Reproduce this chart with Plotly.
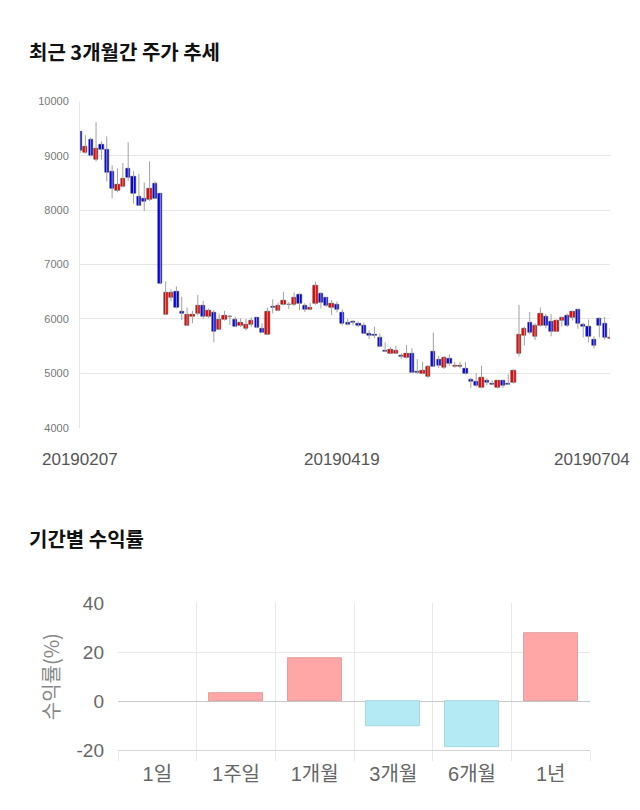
import plotly.graph_objects as go

# ---- candlestick data (100 trading days) ----
opens = [9440,9060,9300,8930,9210,9120,8720,8360,8440,8770,8620,8260,8210,8190,8500,8300,
         6080,6390,6500,6130,5880,6050,6100,6240,6040,6120,5810,5990,6050,5990,5880,5820,5900,6020,5830,5720,
         6230,6160,6270,6270,6260,6440,6250,6180,6280,6460,6390,6210,6270,6120,5930,5960,5910,5870,5730,5710,
         5650,5420,5370,5370,5320,5290,5360,5040,5000,4945,5400,5250,5100,5270,5120,5120,5090,4885,4850,4740,
         4865,4810,4730,4860,4810,4835,5360,5700,5940,5680,5880,6040,5960,5770,5970,6070,6030,6180,5900,5860,
         5630,6010,5920,5640]
highs = [9450,9380,9340,9620,9270,9360,8830,8770,8870,9250,8720,8670,8510,8900,8530,8310,
         6690,6540,6600,6410,6210,6150,6440,6330,6190,6160,6100,6150,6070,6040,6010,6000,6030,6030,5920,6210,
         6360,6300,6500,6310,6490,6470,6290,6300,6690,6490,6400,6350,6320,6180,6000,5980,5950,5930,5790,5860,
         5730,5570,5490,5510,5370,5520,5460,5260,5210,5150,5750,5320,5320,5350,5210,5210,5210,4915,5005,5140,
         4910,4870,4870,4870,4980,5070,6260,5860,6130,5920,6210,6090,6090,5990,6040,6100,6150,6190,5930,5990,
         5680,6030,6040,5830]
lows = [9050,9040,8990,8900,8930,8530,8220,8330,8420,8540,8120,8080,7990,8170,8210,6640,
        6070,6320,6190,5980,5870,5920,6070,6000,6020,5570,5800,5970,5890,5850,5850,5790,5860,5830,5740,5710,
        6100,6150,6250,6180,6240,6160,6130,6160,6260,6190,6220,6070,6120,5880,5880,5880,5850,5730,5630,5650,
        5480,5390,5360,5360,5260,5270,5010,4990,4980,4915,5120,5100,5080,5140,5100,5090,4975,4725,4750,4725,
        4780,4780,4720,4730,4785,4810,5310,5510,5720,5610,5860,5830,5680,5760,5860,5850,5970,5820,5660,5570,
        5460,5660,5620,5620]
closes = [9100,9170,9000,9140,9120,8690,8400,8480,8590,8600,8310,8090,8160,8400,8220,6650,
          6490,6480,6210,6100,6080,6080,6250,6050,6150,5760,5990,6070,6040,5860,5940,5900,5970,5840,5750,6130,
          6210,6250,6330,6260,6390,6280,6180,6210,6620,6300,6240,6290,6180,5910,5900,5940,5870,5740,5690,5690,
          5490,5400,5430,5420,5300,5360,5020,5020,5050,5130,5130,5140,5290,5180,5140,5150,4990,4840,4780,4925,
          4825,4800,4860,4780,4800,5050,5710,5820,5750,5880,6100,5880,5760,5970,6030,5880,6130,5920,5860,5680,
          5520,5880,5660,5660]

date_labels = ["20190207", "20190419", "20190704"]
date_index = [0, 49, 99]

# ---- period returns ----
periods = ["1일", "1주일", "1개월", "3개월", "6개월", "1년"]
returns = [0, 3.2, 17.5, -10.3, -18.9, 27.8]
ret_ticks = [-20, 0, 20, 40]
ret_tick_text = ["-20", "0", "20", "40"]

idx = list(range(len(opens)))
body_base = [min(o, c) for o, c in zip(opens, closes)]
body_h = [max(abs(c - o), 8) for o, c in zip(opens, closes)]
body_col = ["#ff0000" if c > o else "#0000ff" for o, c in zip(opens, closes)]

wx, wy = [], []
for i, h, l in zip(idx, highs, lows):
    wx += [i, i, None]
    wy += [l, h, None]

LAT = "Liberation Sans, Noto Sans CJK KR, sans-serif"
KR = "Noto Sans CJK KR, Liberation Sans, sans-serif"


def py(r):
    # target pixel row (from top) -> paper fraction
    return 1 - (r / 0.9806 - 8) / 810


fig = go.Figure()
fig.add_trace(go.Scatter(x=wx, y=wy, mode="lines", line=dict(color="#a0a0a0", width=1),
                         xaxis="x", yaxis="y", hoverinfo="skip", showlegend=False))
fig.add_trace(go.Bar(x=idx, y=body_h, base=body_base, width=0.8,
                     marker=dict(color=body_col, line=dict(color="#333333", width=0.5)),
                     xaxis="x", yaxis="y", showlegend=False))

ret_col = ["#ffa6a6" if v >= 0 else "#b3eaf3" for v in returns]
ret_line = ["#e3a0a0" if v >= 0 else "#a5d8e0" for v in returns]
ret_lw = [1 if v != 0 else 0 for v in returns]
fig.add_trace(go.Bar(x=periods, y=returns, width=0.69,
                     marker=dict(color=ret_col, line=dict(color=ret_line, width=ret_lw)),
                     xaxis="x2", yaxis="y2", showlegend=False))

annotations = [
    dict(text="<b>최근 3개월간 주가 추세</b>", x=27/640, y=py(50), xref="paper", yref="paper",
         xanchor="left", yanchor="middle", showarrow=False, font=dict(family=KR, size=20, color="#111")),
    dict(text="<b>기간별 수익률</b>", x=27/640, y=py(540), xref="paper", yref="paper",
         xanchor="left", yanchor="middle", showarrow=False, font=dict(family=KR, size=20, color="#111")),
]
shifts = [0, 0, -18]
for lab, di, sh in zip(date_labels, date_index, shifts):
    annotations.append(dict(text=lab, x=di, y=py(460), xref="x", yref="paper",
                            xanchor="center", yanchor="middle", xshift=sh, showarrow=False,
                            font=dict(family=LAT, size=17, color="#555")))

fig.update_layout(
    width=640, height=810, margin=dict(l=0, r=0, t=0, b=0),
    paper_bgcolor="white", plot_bgcolor="white",
    barmode="overlay", bargap=0,
    xaxis=dict(domain=[80/640, 610/640], range=[0, 99], showgrid=False, zeroline=False,
               showticklabels=False, ticks="", anchor="y"),
    yaxis=dict(domain=[py(428.3), py(100)], range=[4000, 10000], dtick=1000, tickformat="d",
               showgrid=True, gridcolor="#e6e6e6", gridwidth=1, zeroline=False,
               showline=True, linecolor="#e6e6e6", linewidth=1,
               tickfont=dict(family=LAT, size=11, color="#777"), ticklabelstandoff=8, anchor="x"),
    xaxis2=dict(domain=[118/640, 590/640], type="category", tickson="boundaries",
                showgrid=True, gridcolor="#e8e8e8", gridwidth=1, ticks="outside", ticklen=10,
                tickcolor="#e8e8e8", showline=True, linecolor="#d6d6d6", zeroline=False,
                ticklabelstandoff=6,
                tickfont=dict(family=LAT, size=20, color="#666"), anchor="y2"),
    yaxis2=dict(domain=[py(753), py(605)], range=[-20, 40], tickvals=ret_ticks, ticktext=ret_tick_text,
                showgrid=True, gridcolor="#e8e8e8", gridwidth=1,
                zeroline=True, zerolinecolor="#c8c8c8", zerolinewidth=1,
                tickfont=dict(family=LAT, size=19, color="#666"), ticklabelstandoff=13,
                title=dict(text="수익률(%)", font=dict(family=KR, size=20, color="#888"), standoff=11),
                anchor="x2"),
    annotations=annotations,
)

fig.write_html("out.html")
